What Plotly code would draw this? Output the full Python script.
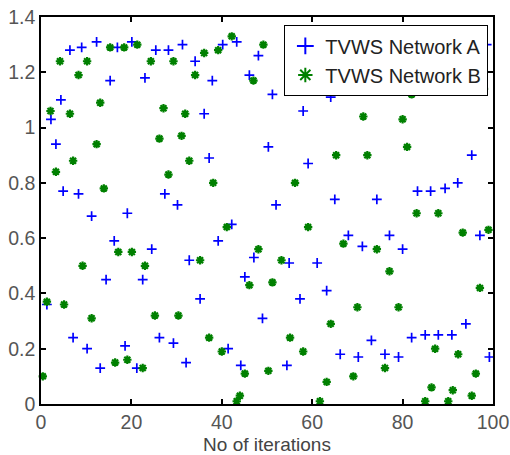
import plotly.graph_objects as go

# TVWS Network A (blue +)
iter_a = [1.3, 2.2, 3.3, 4.4, 4.9, 6.4, 7.1, 8.3, 9.0, 10.2, 11.2, 12.3, 13.1, 14.4, 15.3, 16.2, 16.9,
          18.6, 19.1, 20.1, 21.2, 22.5, 23.0, 24.5, 25.4, 26.2, 27.4, 28.2, 29.3, 30.2, 31.3, 32.1, 32.8,
          34.1, 35.2, 36.1, 37.2, 37.9, 39.2, 40.2, 41.4, 42.2, 43.3, 44.2, 45.1, 46.1, 47.1, 48.1, 49.0,
          50.3, 51.2, 52.0, 54.4, 54.9, 57.3, 58.0, 59.1, 61.1, 63.2, 64.1, 65.0, 66.2, 68.0, 70.2, 71.1,
          73.1, 74.3, 76.1, 77.1, 79.1, 80.0, 82.0, 83.3, 85.0, 86.2, 87.9, 89.4, 90.9, 92.2, 94.0, 95.3,
          97.1, 98.6, 99.2]
val_a = [0.36, 1.03, 0.94, 1.10, 0.77, 1.28, 0.24, 0.76, 1.29, 0.20, 0.68, 1.31, 0.13, 0.45, 1.17, 0.59, 1.29,
         0.21, 0.69, 1.31, 0.13, 0.45, 1.18, 0.56, 1.28, 0.24, 0.76, 1.28, 0.22, 0.72, 1.30, 0.15, 0.52,
         1.24, 0.38, 1.05, 0.89, 1.17, 0.59, 1.30, 0.20, 0.65, 1.31, 0.14, 0.46, 1.19, 0.53, 1.26, 0.31,
         0.93, 1.12, 0.72, 0.14, 0.51, 0.38, 1.06, 0.87, 0.51, 0.41, 1.11, 0.74, 0.18, 0.61, 0.17, 0.57,
         0.23, 0.74, 0.18, 0.61, 0.17, 0.56, 0.24, 0.77, 0.25, 0.77, 0.25, 0.78, 0.25, 0.80, 0.29, 0.90,
         0.61, 1.30, 0.17]

# TVWS Network B (green *)
iter_b = [0.4, 1.3, 2.1, 3.3, 4.2, 5.1, 6.4, 7.1, 8.3, 9.2, 10.2, 11.2, 12.3, 13.1, 13.9, 15.3, 16.4, 17.1,
          18.4, 19.1, 20.1, 21.3, 22.5, 23.0, 24.3, 25.2, 26.2, 27.1, 28.2, 29.3, 30.4, 31.1, 31.9, 32.8,
          34.1, 35.2, 36.1, 37.2, 38.1, 39.2, 40.0, 41.1, 42.2, 43.3, 44.0, 45.1, 46.1, 47.0, 48.1, 49.2,
          50.3, 51.2, 53.2, 55.1, 56.2, 58.0, 59.1, 61.7, 63.2, 64.1, 65.3, 66.9, 69.1, 70.0, 71.3, 72.2,
          74.3, 76.1, 77.1, 79.1, 80.0, 81.0, 82.0, 83.1, 85.0, 86.4, 87.2, 87.9, 90.1, 91.1, 92.3, 93.3,
          95.3, 96.2, 97.1, 98.0, 99.0]
val_b = [0.10, 0.37, 1.06, 0.84, 1.24, 0.36, 1.05, 0.88, 1.19, 0.50, 1.24, 0.31, 0.94, 1.09, 0.78, 1.29, 0.15, 0.55,
         1.29, 0.16, 0.55, 1.30, 0.13, 0.50, 1.24, 0.32, 0.96, 1.07, 0.83, 1.24, 0.32, 0.97, 1.05, 0.88,
         1.19, 0.52, 1.27, 0.24, 0.80, 1.28, 0.19, 0.64, 1.33, 0.01, 0.03, 0.11, 0.43, 1.17, 0.56, 1.30,
         0.12, 0.44, 0.52, 0.24, 0.80, 0.19, 0.64, 0.01, 0.08, 0.29, 0.90, 0.58, 0.10, 0.35, 1.04, 0.90,
         0.56, 0.13, 0.48, 0.35, 1.03, 0.93, 1.12, 0.69, 0.01, 0.06, 0.20, 0.69, 0.01, 0.05, 0.18, 0.62,
         0.03, 0.11, 0.42, 1.14, 0.63]

x_ticks = [0, 20, 40, 60, 80, 100]
y_ticks = [0, 0.2, 0.4, 0.6, 0.8, 1, 1.2, 1.4]
y_labels = ["0", "0.2", "0.4", "0.6", "0.8", "1", "1.2", "1.4"]

FONT = "Liberation Sans, Arial, sans-serif"

fig = go.Figure()
fig.add_trace(go.Scatter(
    x=iter_a, y=val_a, mode="markers", name="TVWS Network A", cliponaxis=False,
    marker=dict(symbol="cross-thin-open", size=7, color="#0000ff",
                line=dict(color="#0000ff", width=1.7))))
fig.add_trace(go.Scatter(
    x=iter_b, y=val_b, mode="markers", name="TVWS Network B", cliponaxis=False,
    marker=dict(symbol="asterisk-open", size=7, color="#008000",
                line=dict(color="#008000", width=2.2))))

axis_common = dict(showline=True, linecolor="black", linewidth=1.5, mirror="allticks",
                   ticks="inside", ticklen=5, tickcolor="black", tickwidth=1.5,
                   showgrid=False, zeroline=False, automargin=False,
                   tickfont=dict(family=FONT, size=19.5, color="#555555"))

fig.update_xaxes(range=[0, 100], tickvals=x_ticks, ticktext=[str(v) for v in x_ticks],
                 title=dict(text="No of iterations", standoff=8,
                            font=dict(family=FONT, size=19, color="#444444")),
                 **axis_common)
fig.update_yaxes(range=[0, 1.4], tickvals=y_ticks, ticktext=y_labels, **axis_common)

fig.update_layout(
    width=510, height=455,
    margin=dict(l=41, r=17, t=17, b=51, autoexpand=False),
    paper_bgcolor="white", plot_bgcolor="white",
    showlegend=True,
    legend=dict(x=0.989, y=0.979, xanchor="right", yanchor="top",
                bgcolor="white", bordercolor="black", borderwidth=1.3,
                font=dict(family=FONT, size=20, color="#222222"),
                tracegroupgap=0, itemsizing="constant"),
)

fig.write_html("out.html")
